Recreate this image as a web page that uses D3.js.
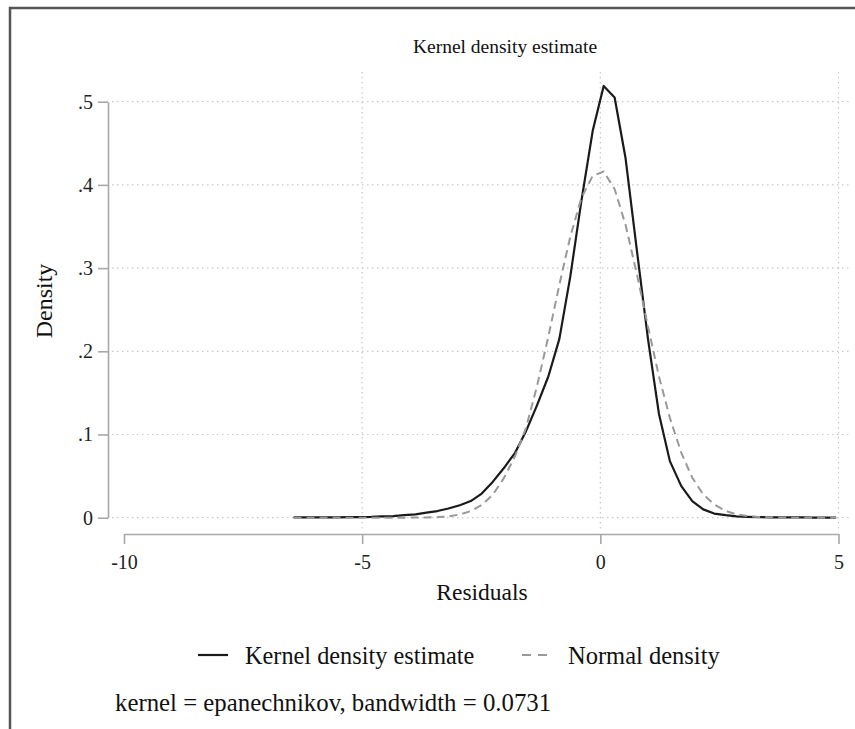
<!DOCTYPE html>
<html>
<head>
<meta charset="utf-8">
<script src="https://cdn.jsdelivr.net/npm/d3@7/dist/d3.min.js"></script>
<style>
  body { margin: 0; background: #fff; }
  svg { display: block; font-family: "Liberation Serif", "DejaVu Serif", serif; }
</style>
</head>
<body>
<svg id="chart" width="855" height="729"></svg>
<script>
// evaluation grid (residuals) and densities
const gridX = [-6.44, -6.21, -5.98, -5.74, -5.51, -5.28, -5.05, -4.81, -4.58, -4.35,
  -4.12, -3.88, -3.65, -3.42, -3.19, -2.95, -2.72, -2.49, -2.26, -2.02,
  -1.79, -1.56, -1.33, -1.09, -0.86, -0.63, -0.40, -0.16, 0.07, 0.30,
  0.53, 0.77, 1.00, 1.23, 1.46, 1.70, 1.93, 2.16, 2.39, 2.63,
  2.86, 3.09, 3.32, 3.56, 3.79, 4.02, 4.25, 4.49, 4.72, 4.95];

const kernelDensity = [0.0003, 0.0003, 0.0003, 0.0004, 0.0005, 0.0006, 0.0008, 0.001, 0.0015, 0.002,
  0.003, 0.004, 0.006, 0.008, 0.011, 0.015, 0.020, 0.029, 0.043, 0.060,
  0.078, 0.104, 0.135, 0.170, 0.215, 0.290, 0.380, 0.465, 0.519, 0.505,
  0.432, 0.320, 0.215, 0.125, 0.068, 0.038, 0.020, 0.010, 0.005, 0.003,
  0.0015, 0.001, 0.0007, 0.0005, 0.0004, 0.0003, 0.0003, 0.0002, 0.0002, 0.0002];

const normalDensity = [0, 0, 0, 0, 0, 0, 0, 0, 0, 0.00002,
  0.00005, 0.00013, 0.00028, 0.0007, 0.0015, 0.0039, 0.0079, 0.0153, 0.0274, 0.048,
  0.074, 0.108, 0.158, 0.218, 0.280, 0.338, 0.384, 0.411, 0.416, 0.395,
  0.352, 0.292, 0.230, 0.170, 0.120, 0.078, 0.048, 0.028, 0.016, 0.0082,
  0.0040, 0.0019, 0.0009, 0.0004, 0.00015, 0.00006, 0.00002, 0, 0, 0];

const xTicks = [-10, -5, 0, 5];
const xTickLabels = ["-10", "-5", "0", "5"];
const xGrid = [-5, 0, 5];
const yTicks = [0, 0.1, 0.2, 0.3, 0.4, 0.5];
const yTickLabels = ["0", ".1", ".2", ".3", ".4", ".5"];

const titleText = "Kernel density estimate";
const xTitle = "Residuals";
const yTitle = "Density";
const legendLabels = ["Kernel density estimate", "Normal density"];
const noteText = "kernel = epanechnikov, bandwidth = 0.0731";

const svg = d3.select("#chart");

// outer frame
svg.append("rect")
  .attr("x", 10).attr("y", 8)
  .attr("width", 900).attr("height", 800)
  .attr("fill", "none")
  .attr("stroke", "#555")
  .attr("stroke-width", 2.5);

const x = d3.scaleLinear().domain([-10, 5]).range([124, 838.5]);
const y = d3.scaleLinear().domain([0, 0.5]).range([517.7, 101.7]);

const axisColor = "#a8a8a8";
const gridColor = "#c8c8c8";

// gridlines
svg.append("g").selectAll("line")
  .data(yTicks).enter().append("line")
  .attr("x1", 112).attr("x2", 852)
  .attr("y1", d => y(d)).attr("y2", d => y(d))
  .attr("stroke", gridColor).attr("stroke-width", 1.2)
  .attr("stroke-dasharray", "1.5,3.5");

svg.append("g").selectAll("line")
  .data(xGrid).enter().append("line")
  .attr("x1", d => x(d)).attr("x2", d => x(d))
  .attr("y1", 72).attr("y2", 530)
  .attr("stroke", gridColor).attr("stroke-width", 1.2)
  .attr("stroke-dasharray", "1.5,3.5");

// axes
const yAxis = svg.append("g")
  .attr("transform", "translate(108,0)")
  .call(d3.axisLeft(y).tickValues(yTicks).tickSize(10).tickSizeOuter(0).tickPadding(5)
    .tickFormat((d, i) => yTickLabels[i]));

const xAxis = svg.append("g")
  .attr("transform", "translate(0,534)")
  .call(d3.axisBottom(x).tickValues(xTicks).tickSize(10).tickSizeOuter(0).tickPadding(11)
    .tickFormat((d, i) => xTickLabels[i]));

[yAxis, xAxis].forEach(ax => {
  ax.select(".domain").attr("stroke", axisColor).attr("stroke-width", 1.6);
  ax.selectAll(".tick line").attr("stroke", axisColor).attr("stroke-width", 1.6);
  ax.selectAll(".tick text")
    .attr("fill", "#222")
    .style("font-family", "Liberation Serif, serif")
    .style("font-size", "20px");
});

// curves
const line = d3.line()
  .x((d, i) => x(gridX[i]))
  .y(d => y(d));

svg.append("path")
  .datum(kernelDensity)
  .attr("d", line)
  .attr("fill", "none")
  .attr("stroke", "#1a1a1a")
  .attr("stroke-width", 2.2)
  .attr("stroke-linejoin", "round");

svg.append("path")
  .datum(normalDensity)
  .attr("d", line)
  .attr("fill", "none")
  .attr("stroke", "#999")
  .attr("stroke-width", 2)
  .attr("stroke-dasharray", "8,5");

// titles
svg.append("text")
  .attr("x", 505).attr("y", 53)
  .attr("text-anchor", "middle")
  .attr("fill", "#111")
  .style("font-size", "19.5px")
  .text(titleText);

svg.append("text")
  .attr("x", 482).attr("y", 600)
  .attr("text-anchor", "middle")
  .attr("fill", "#111")
  .style("font-size", "23.5px")
  .text(xTitle);

svg.append("text")
  .attr("transform", "translate(52,301) rotate(-90)")
  .attr("text-anchor", "middle")
  .attr("fill", "#111")
  .style("font-size", "24px")
  .text(yTitle);

// legend
const legend = svg.append("g");
legend.append("line")
  .attr("x1", 198).attr("x2", 228).attr("y1", 655).attr("y2", 655)
  .attr("stroke", "#1a1a1a").attr("stroke-width", 2.2);
legend.append("text")
  .attr("x", 245).attr("y", 664)
  .attr("fill", "#111")
  .style("font-size", "24.3px")
  .text(legendLabels[0]);
legend.append("line")
  .attr("x1", 522).attr("x2", 552).attr("y1", 655).attr("y2", 655)
  .attr("stroke", "#999").attr("stroke-width", 2)
  .attr("stroke-dasharray", "9,7");
legend.append("text")
  .attr("x", 568).attr("y", 664)
  .attr("fill", "#111")
  .style("font-size", "24.5px")
  .text(legendLabels[1]);

// note
svg.append("text")
  .attr("x", 115).attr("y", 711)
  .attr("fill", "#111")
  .style("font-size", "24.8px")
  .text(noteText);
</script>
</body>
</html>
